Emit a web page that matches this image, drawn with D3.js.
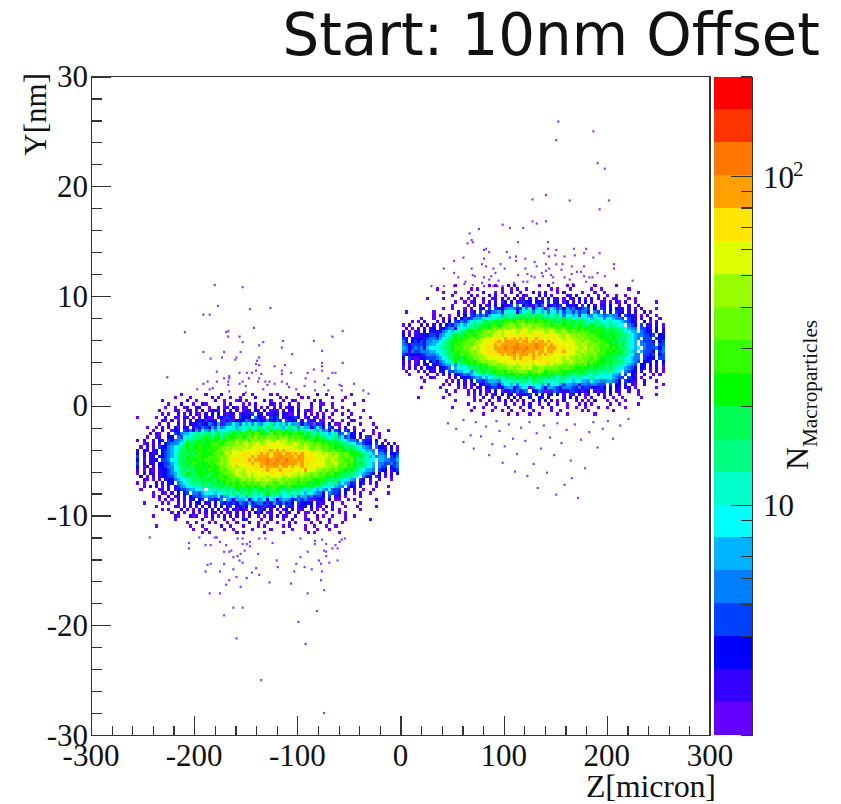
<!DOCTYPE html>
<html>
<head>
<meta charset="utf-8">
<script src="https://cdn.jsdelivr.net/npm/d3@7/dist/d3.min.js"></script>
<style>
body{margin:0;background:#fff;}
text{font-family:"Liberation Serif",serif;fill:#111;}
.axis path,.axis line{stroke:#333;stroke-width:1.2;shape-rendering:crispEdges;}
</style>
</head>
<body>
<svg class="chart" width="841" height="804"></svg>
<script>
var zMajor = [-300,-200,-100,0,100,200,300];
var yMajor = [-30,-20,-10,0,10,20,30];
var zMinor = [-280,-260,-240,-220,-180,-160,-140,-120,-80,-60,-40,-20,20,40,60,80,120,140,160,180,220,240,260,280];
var yMinor = [-28,-26,-24,-22,-18,-16,-14,-12,-8,-6,-4,-2,2,4,6,8,12,14,16,18,22,24,26,28];
var countMajor = [10,100];
var countMinor = [2,3,4,5,6,7,8,9,20,30,40,50,60,70,80,90,200];

// colour bands, bottom to top of the palette
var palette = ["#6600ff","#3300ff","#0000ff","#0040ff","#0080ff","#00b3ff","#00ffff","#00ffcc","#00ff80","#00ff55",
               "#00ff00","#33ff00","#66ff00","#99ff00","#ddff00","#ffe600","#ffa000","#ff7700","#ff3300","#ff0000"];
var levelChars = "0123456789abcdefghij";

// band per cell. 3 micron x 0.3 nm cells, "." is empty
var leftStartZ = -256, leftTopY = 1.2;
var leftRows = [
"..... ..... ....0 ..... ..0.. ..1.. ....0 ..0.. ...0. 0.... ..0.. ...1. .0... ....0 ..... ..... .....",
"..... ..... ..0.. ..0.. ....1 .0... 0..0. ...1. ..... .0.0. ...0. 0.... ...0. ..0.. ..... ..... .....",
"..... ...0. ..... .1..0 ..... 1..0. ..01. 0.... .1.0. ..0.. 10... ..0.1 ..... .0... ...0. ..... .....",
"..... ..... 0...1 ...0. .10.. ...0. 1...0 .0.1. ...10 .0..1 ..0.. .1..0 0..0. ..... 0.... ..... .....",
"..... ....0 ..0.. 01..1 1..0. .1.01 .20.1 0..1. 0.1.0 .1.01 1.0.. .0..1 ...0. .0... ..... ..... .....",
"..... ..0.. ..10. .01.0 .1.01 10.2. 0.1.0 11.20 .2.01 0.1.1 1.2.0 10..0 .1..0 ...0. ...0. ..... .....",
"..... ...0. 0..1. 0.1.1 0.1.2 .2.10 21.02 113.1 2.112 1.210 0.1.1 .0.1. 0..0. .0..0 ..... ..... .....",
"0.... .0..1 ..10. 11.0. 1.201 .1203 11.32 12.42 10.32 3.112 131.0 2.10. 1.0.. ...1. ..0.. 0.... .....",
"..... ...10 .1.0. 0.1.2 12012 1.301 30212 43113 21412 30.31 21.1. 012.0 0..1. .0..1 0.... ..... .....",
"..... ..0.. 1..1. 0.211 31243 25034 46537 56475 47685 65746 45524 30413 1.2.0 0..1. ..0.. .0... .....",
"...0. .0.1. 1.20. 21.13 14325 36456 67586 78679 86987 78569 68475 52364 2.31. 0.1.. 0.... ..0.. .....",
"..... 0..1. .021. 31425 36547 58667 87996 8a88a 9a7a9 b89a8 97a88 67958 45163 2.31. 1..0. .0... .0...",
"....0 .10.. 1.324 55678 87896 8a789 8a9ab 9bacb ab9ca bcaba 9baa8 a8797 76568 34.52 1.2.. .0.0. .....",
"...0. .01.. 22.43 67788 89a98 aa89b aabca bcbdb cbdcc bdcdb cbcba a9ba8 98779 56342 2.1.3 0..1. .....",
"0.1.. 1.21. 32445 78899 a9aa9 abbab bcdcc dbdcd cdedc ededc dcdcb cbaab a9899 87654 43.31 1.2.. 0....",
"..01. 1.1.2 34456 8a99a a9aab bbabc ccdcd eddee ddeef eeedd dedcd ccbcb bba9a 99877 64532 2.3.1 .1.0.",
".0.1. 1.322 45678 9a9aa baaab bbccd cdded edeef effee feefe eedde dccdc bcbba aa899 87654 3.422 1.2.0",
"1.20. 11.23 45679 9a99b aaaba bccdd deede efeff fffgf gfgff fefee eddde ccbcb baa9a 99765 54.33 2.1.1",
"2.1.1 12.23 45689 99a9a baaab bcbde deeef ffeff gfgfg ggfgg fgfgf efeee dedcd cbcba aa987 65.44 3.223",
"3.1.1 2.123 45689 9a99b aaabb bcdcd eeeff ffgfg gggfg ghggg gfggf ffeee eedde cbccb a9a87 56455 4.324",
"2.0.1 12.33 46689 9a9aa babbb bbdcd effef fgfgg gghgg hgghg ggggf fffee edded ccbbc a8987 66.55 44335",
"3.1.1 1.223 35689 99ab9 aaaba bcdcd eefef ffgff gghgh gghgg ggfgf fefef eddde cbcbb a9a87 65.44 33424",
"2.01. 1.223 44679 9a99a ba9ab abccd dfdee fefff gfggg gfggf gffgf ffefe eddcd bccab a9887 65.43 3.234",
"1.0.1 0.122 34678 9899a a9aba abcbc ddeed efefe ffgff fgfff fefeg eeedd cdcbc bba9a 98765 54.32 2.123",
"0.1.1 1.122 34578 8a999 aaa9b aabcc cdedd eedee efeff effee eeded dcdcb cbbca a9998 87654 32.2. 1.1.2",
".2.0. 1.122 33567 89899 aa99a abbab ccded dedee eedee eedde ddcdc cbccb baaba 98988 66.42 2.31. 0.1..",
"..10. 0.1.1 22456 67899 8a9a9 9abab bcbcd cdcde ddedc ddcdc ccbcb cbaab a9989 87675 4.32. 1..1. ..0..",
"0.0.. .1.1. 22.45 67788 89989 9a9ab abacb bcbcb cdccb bdcbc bbabb a9aa9 98788 56542 3.21. 0.1.. .....",
"..0.1 .1.0. 1.234 56677 78889 89a99 9baab aabab bcabc baa9b aa9a9 8a988 67665 44.32 1.1.. ..0.. .0...",
".0... ..01. 1.123 34556 67.78 78879 78a89 9a899 a99b8 a9899 89887 87657 54633 3.21. 1..0. .0... .....",
"..... 0..10 .1.2. 23.44 35667 56678 68798 89879 79a88 98678 67865 76544 2.433 1.2.. 0.0.. 0.... .0...",
"..... 0.1.. 1.01. 1.233 34544 46355 66577 58767 78577 65667 56355 34133 2.3.1 1.0.. ..0.. ..... .....",
"..... ..0.1 .0.1. 1.12. 23.33 134.5 41555 62564 56265 14554 23434 30312 1.2.0 0..0. 0.... ..0.. .....",
"..0.. ...0. 0..1. 0.1.2 2.11. 2.323 13243 15234 42315 31423 2.312 12.10 1..1. .0... ..0.. ..... .....",
"..... .0... ..10. 1.1.1 .1.2. 1.2.1 3.123 2.312 03112 .2.31 1.021 .2.10 .1.0. ..0.. .0... ..0.. .....",
"..... ...0. 0...1 .1.0. 1.1.1 .2.01 .2021 0.1.3 12.1. 1.02. 2.01. .1.0. 0..1. 0.... ..0.. ..... .....",
"..... ..... .0.1. 0..1. 0.1.1 1.1.0 1.1.1 .1.20 2.01. .1.01 ..1.0 0.1.. .0... 0.0.. ..... ..... .....",
"..... 0.... ..10. ..101 ..0.1 .0.1. 1.1.0 .1..0 .0.1. 1.10. .1..0 ...1. 0..0. ..0.. 0.... ..... .....",
"..... ..... ..0.. ..... .1..0 ...1. .0..2 0.... 0..1. ..0.. 1...0 1..0. ..1.. ..0.. ..... 0.... .....",
"..... ..... ..... .0..0 ...0. 0...0 ..0.. .1..0 ..0.. 0...0 .0... .0..1 ..0.. .0... ..... ..... .....",
"..... .0... ..... ..0.. .0... ..1.. 0...0 ....0 .0... ..0.1 ....0 ..0.. .0..0 ..... ..... ..... .....",
"..... ..... ..... ...0. ..0.. ...0. .0... ..0.. ...0. ..... 0...0 ...0. ..0.. ..... ..... ..... .....",
"..... ..... ..... ..... .0.0. ..... ..0.0 ..... .0... ..0.. ..... 0.0.. ..... 0.... ..... ..... ....."
];

var rightStartZ = 1, rightTopY = 11.1;
var rightRows = [
"..... ..... ..... ..0.. ..... ...0. 0...1 .0... ....0 ..1.. ...0. 1.... ..0.. ....0 ..... ..... .....",
"..... ..... .0... ..... ..0.0 ..... ..0.. 0.1.. 0.... ...0. 0...0 ..... .0..0 ..... ...0. ..... .....",
"..... ..... ...0. ..0.. .0... .1... 0.0.. 1..0. ..1.0 .1... 0.1.. ...0. ..0.. 0.... ..... .0... .....",
"..... ..... ..... .0... ..1.0 ...1. 1..0. ..1.1 0...2 .1.0. ...10 .1... 1..0. .0..0 ..0.. ..... .....",
"..... ...0. ...0. ....0 .0.1. .1..0 1.1.0 .2.01 .1.1. 0.2.1 1.0.1 1.2.0 .1.1. 0..01 ...0. 0.... .....",
"..... ..... ..... ..0.. 0.01. .0.1. 1.02. 2.103 12.12 1.3.1 2.02. 1.1.2 .1..0 1.0.1 0.1.. 0.... ..0..",
"..... ..... ..... .0... .0.1. 1.01. 2.211 3.4.2 31142 4.213 13.21 12.3. 2.1.1 1.2.. 1..1. .1... .....",
"..... ..... ...0. .0... 0.1.. 12.3. 31245 54136 46256 50465 34253 42134 3.2.3 1.2.2 11.1. 0.1.. ..0..",
".0... ..... 0.... ...1. 1.02. 3.314 45166 76257 68477 57366 46355 35344 2.43. 3.2.3 12.1. 1..1. 0....",
"..... ..... 0.0.. 0..1. 2.314 34156 67588 79889 89899 87968 87467 56366 44655 34544 2.322 1.0.1 ..0..",
"..... .0... 0..1. 1.2.2 31355 57677 78899 8a9a9 a9ba9 a9899 87a88 67887 75866 46654 43.32 1.1.. 1..0.",
"...0. 0.1.. .1.1. 2.314 35687 78a89 a9abb bacbc abbab bab9a 98a99 a8998 77887 67866 65432 1..2. 0.1..",
"0.1.. .1.1. 1.2.2 31456 57888 9a9ab babcc dcbdd cdcdc cbcab bbaba 9ba99 8a989 87887 66.43 2.3.1 1.1.0",
".1.0. 1.1.1 2.123 45167 79899 abbac ccddc dedce edcdd dcddc bccab bbaba a9baa 98a98 87654 4.332 1.2.1",
"1.0.1 1.2.1 21245 65778 9aa9b bccdc dedee eedfe edeee edded ccdcb cbbcb baaba a9a99 98765 5.432 2.2.1",
"2.1.1 11223 32456 78a99 abbab ccdcd eedef fefef feeff eeefe edded dcdcc bcbaa a9aa9 99876 54433 23.22",
"32.21 22134 43567 89aba bbccb ddefe ffegf fgfgf gffgf fefef eedee ddcdc cbcba aa9a9 98876 54.33 3.322",
"42.23 23144 55678 9aabb bcccd defef fgfgg gggfg gfgfg gfgfe feeee eddcd dcbcb baa9a 89876 5.433 32.23",
"43133 33145 56688 9abab ccbdd eefff gfggg gghgg ggghg ggfgf fefee edded ccdcb bcaaa 9a876 5.443 33.33",
"54234 34156 66788 9abbb ccded eefff ggghg ghhgg hgghg gfggg fffef eedde cdccb bbaba 99876 56.43 33424",
"44143 34445 56778 9abab bcdcd efeff fgggg ghggh gggfg gfggf ffgee edded cdccb baba9 a9875 5.533 32.34",
"32122 21344 45678 99aac bbccd deeff ffgfg ggfgg gfgfg fgffe eefee eddcd ccdbb baa9a 98876 44.33 23.23",
"2.310 12133 34567 89aa9 abbdc ddeee efeef fgfgf ffgff fefef eeded dcdcc cbcba a9a99 88765 44.32 22.33",
"1.1.0 1.2.2 32456 78a89 aabab cdcdd deefe efeff fefef effee eedde dccdc bcbaa a9a99 88765 43.22 1.2.2",
"2.0.1 1.12. 21345 56478 8a9ab abbcd dcdde eedee eedee eeded ddccd cbcbc abaaa 99a88 87654 3.22. 2.1.1",
"0.1.1 .1.12 1.223 4.567 68899 a9abb bcccd dcdde deccd dcdcc cbccb baaba a9a99 98987 76543 2.21. 1.1.0",
".0... 0.1.1 1.12. 33455 67488 9a89a abbac bccdc cbccd cabbb bbaa9 a9aa9 89888 78876 6.432 2.1.. 0.1.0",
"..0.. ...0. .0.1. 1.223 43566 78688 9a8aa aabab babab aa9a8 99a99 88989 77876 77655 4.3.2 1..1. .0.0.",
"..... .0..1 0.... 0.1.2 21345 46567 78789 98a99 a8a99 98a88 79887 78776 68667 66654 33.32 1.0.. 0....",
"..... ..0.. ....0 .0.1. 1.2.3 31455 54777 78788 87988 87677 78766 56655 46554 45543 2.321 1..1. ..0..",
"..... ..... ...0. 0..1. 1.02. 21334 42566 57467 67767 56366 65355 44144 34433 3.3.2 2.1.1 0..1. ....0",
"..... .0... ..0.. ...0. 0.1.1 1.213 31245 51356 60466 41554 31444 31413 31213 2.2.2 1.11. 0.... ..0..",
"..... ..... ....0 ..0.. .0.1. 1.01. 2.311 31413 4.214 30304 31113 31201 2.101 1.2.1 1..1. .0... .....",
"..... ..... ..... 0.... .0.0. 0.1.0 1.2.1 2.012 13.2. 2.12. 2.1.0 1.2.0 1..1. 0.1.. 0.... .0... ..0..",
"..... 0.... ...0. ..... ...0. .1..0 .1..1 .2.1. .2..2 1.2.. ..1.2 .1..0 .1... 1..0. .0... ..0.. .....",
"..... ..... ..... ..0.. ...0. 0..1. .0.1. 1.0.1 ..1.2 .1.1. 0.1.. .1.0. 0.1.. .0..0 ..0.. ..... .....",
"..... ..... ..... ..... .0... ..0.0 ...1. .0..1 .1..0 ..1.. 1..0. ..0.1 .0... ..0.. 0.... .0... .....",
"..... ..... ..... .0... ...0. .0... 0...1 ...0. .1... 0..1. ...0. .0..0 ...0. .0... ..0.. ..... .....",
"..... ..... ..... ..... ..0.. ....0 ..0.. 0...0 ..0.. ...0. .0... ...0. 0.... ...0. ..... ..... .....",
"..... ..... ..... ..... ..... .0... ....0 ..0.. .0..0 ..... 0..0. ..... ..0.. ..... ..... ..... ....."
];

// single low count bins outside the dense part: [z, y]
var rightOutliers = [
[152,26],[186,25.1],[150,24.3],[190,22.2],[197,21.7],[140,19.3],[127,18.9],[163,18.8],[201,18.8],[192,18],[127,16.9],[140,16.9],[131,16.7],[98,16.6],[105,16.3],
[118,16.3],[75,16.2],[66,15.8],[68,15.2],[64,14.9],[69,15],[113,15],[142,15],[82,14.4],[80,14.3],[85,14.1],[102,14.1],[142,14.4],[150,14.3],[167,14.4],
[179,14.4],[177,14],[192,14],[138,14],[143,13.7],[149,13.8],[168,13.8],[158,13.7],[186,13.6],[60,13.6],[51,13.3],[80,13.5],[111,13.7],[111,13.3],[105,13.6],
[120,13.5],[129,13.2],[78,13],[96,13],[82,12.8],[131,12.8],[140,13],[150,13],[156,13],[165,12.8],[177,12.8],[206,13],[206,12.6],[41,12.6],[68,12.6],
[89,12.6],[100,12.6],[120,12.6],[140,12.4],[143,12.6],[155,12.5],[170,12.3],[174,12.3],[51,12.2],[69,12],[91,12.2],[113,12],[122,12.1],[136,12.2],[145,12],
[165,12.1],[190,12.2],[55,11.8],[71,11.9],[80,11.8],[87,11.9],[126,11.9],[129,11.8],[137,11.9],[147,11.8],[158,11.8],[163,11.6],[177,11.9],[182,11.8],[185,11.8],
[197,11.9],[62,11.4],[85,11.6],[94,11.5],[118,11.4],[122,11.4],[179,11.4],[224,11.5],[78,11.3],[109,11.3],[147,11.3],[166,11.2],[29,11],[41,11],[51,11],
[61,11.2],[69,11.1],[80,11],[85,11],[89,11],[93,11],[98,11],
[45,-1.5],[53,-2],[60,-1.2],[67,-2.6],[72,-1.4],[77,-2.7],[82,-1.8],[88,-3.4],[92,-1.3],[95,-2.2],[100,-3.6],[104,-1.6],[108,-2.9],[112,-4.3],[116,-1.9],
[120,-3.1],[124,-1.4],[128,-5.2],[131,-2.4],[135,-3.8],[138,-1.7],[141,-6],[144,-2.8],[148,-4.4],[151,-1.5],[155,-3.3],[158,-7.1],[160,-2.1],[164,-4.9],[168,-1.6],
[171,-8.3],[174,-3],[178,-5.6],[182,-2.3],[186,-1.4],[190,-3.7],[195,-2],[200,-1.3],[205,-2.9],[212,-1.7],[220,-1.1],[150,-8],[132,-7.4],[110,-5.9],[98,-5.1],
[85,-4.4],[122,-6.3],[165,-6.5],[70,-3.8],[60,-3.2]
];
var leftOutliers = [
[-181,11.1],[-154,10.9],[-178,9.2],[-147,8.9],[-127,9],[-192,8.4],[-186,8.4],[-143,7.2],[-210,6.8],[-170,6.8],[-168,6.9],[-57,6.9],[-67,6.4],[-168,6.4],[-157,6.4],
[-154,5.9],[-138,5.6],[-134,5.9],[-115,6],[-85,6],[-116,5.4],[-192,5],[-172,5],[-156,5],[-77,5.1],[-106,4.8],[-185,4.4],[-174,4.5],[-160,4.5],[-161,4.3],
[-138,4.5],[-140,4.2],[-77,4],[-57,4],[-141,3.9],[-138,3.8],[-123,3.7],[-113,3.8],[-77,3.7],[-141,3.3],[-116,3.3],[-85,3.4],[-77,3.3],[-179,3.2],[-227,2.7],
[-167,2.8],[-157,3.1],[-150,3.1],[-145,3.1],[-136,3],[-116,3],[-107,3.1],[-91,3.1],[-67,3.1],[-64,3.1],[-172,2.6],[-167,2.6],[-148,2.6],[-138,2.6],[-93,2.6],
[-71,2.6],[-188,2.3],[-179,2.3],[-168,2.3],[-154,2.3],[-139,2.3],[-132,2.3],[-128,2.3],[-116,2.3],[-84,2.3],[-192,2.1],[-168,2],[-157,2.1],[-151,1.9],[-130,2],
[-123,2.1],[-111,2.1],[-75,2],[-60,2],[-58,1.9],[-46,2.1],[-198,1.6],[-186,1.6],[-183,1.7],[-167,1.4],[-151,1.3],[-134,1.6],[-109,1.8],[-102,1.6],[-94,1.9],
[-84,1.5],[-71,1.5],[-58,1.5],[-37,1.5],[-32,1.2],
[-75,-27.9],[-136,-24.9],[-160,-21.1],[-93,-21.6],[-100,-19.6],[-82,-18.6],[-172,-19],[-163,-18.3],[-154,-18.3],[-186,-17],[-176,-17],[-91,-17],[-75,-16.7],[-156,-16.4],[-170,-16.2],
[-167,-15.8],[-128,-16],[-107,-16.1],[-78,-15.8],[-160,-15.5],[-150,-15.6],[-138,-15.3],[-145,-15.1],[-176,-15],[-190,-15],[-163,-14.8],[-141,-14.7],[-120,-14.6],[-104,-15],[-94,-14.6],
[-87,-14.8],[-77,-15],[-188,-14.4],[-185,-14.3],[-172,-14.3],[-102,-14.3],[-78,-14.3],[-70,-14.2],[-62,-14],[-157,-14],[-154,-14.2],[-121,-14],[-80,-14],[-163,-13.7],[-98,-13.7],
[-159,-13.6],[-73,-13.6],[-172,-13.2],[-167,-13.2],[-165,-13.1],[-156,-13.4],[-152,-13.1],[-139,-13.4],[-91,-13.2],[-75,-13.1],[-73,-13.2],[-67,-12.9],[-62,-12.9],[-206,-12.9],[-206,-12.4],
[-190,-12.6],[-185,-12.6],[-176,-12.3],[-170,-12.6],[-154,-12.5],[-150,-12.5],[-147,-12.3],[-147,-12.7],[-125,-12.4],[-84,-12.2],[-84,-12.5],[-77,-12.1],[-73,-12.5],[-64,-12.6],[-60,-12.3],
[-58,-12.1],[-55,-12],[-244,-11.9],[-196,-11.9],[-181,-11.9],[-179,-11.9],[-159,-12],[-154,-12],[-138,-12],[-132,-12],[-98,-12]
];

var svg = d3.select("svg");
var margin = {top:76.5, left:91, right:710, bottom:735};

var x = d3.scaleLinear().domain([-300,300]).range([margin.left,margin.right]);
var y = d3.scaleLinear().domain([-30,30]).range([margin.bottom,margin.top]);
var zCount = d3.scaleLog().domain([2,200]).range([margin.bottom,margin.top]);

// turn the typed rows into cells
function cellsFrom(rows,startZ,topY){
    var out = [];
    rows.forEach(function(row,r){
        row.replace(/ /g,"").split("").forEach(function(ch,c){
            if(ch==".") return;
            out.push({z:startZ+c*3, y:topY-r*0.3, level:levelChars.indexOf(ch)});
        });
    });
    return out;
}
var cells = cellsFrom(leftRows,leftStartZ,leftTopY).concat(cellsFrom(rightRows,rightStartZ,rightTopY));

svg.append("g").attr("shape-rendering","crispEdges").selectAll("rect").data(cells).enter().append("rect")
    .attr("x",function(d){return x(d.z);})
    .attr("y",function(d){return y(d.y);})
    .attr("width",function(d){return x(d.z+3)-x(d.z);})
    .attr("height",function(d){return y(d.y-0.3)-y(d.y);})
    .attr("fill",function(d){return palette[d.level];});

svg.append("g").selectAll("rect").data(leftOutliers.concat(rightOutliers)).enter().append("rect")
    .attr("x",function(d){return x(d[0]);})
    .attr("y",function(d){return y(d[1]);})
    .attr("width",x(2)-x(0))
    .attr("height",y(0)-y(0.2))
    .attr("fill",palette[0])
    .attr("opacity",0.8);

// colour bar
var bandEdges = palette.map(function(c,i){return zCount.invert(margin.bottom-(margin.bottom-margin.top)*i/palette.length);});
svg.append("g").attr("shape-rendering","crispEdges").selectAll("rect").data(palette).enter().append("rect")
    .attr("x",713.5)
    .attr("width",38.5)
    .attr("y",function(c,i){return i==palette.length-1 ? margin.top : zCount(bandEdges[i+1]);})
    .attr("height",function(c,i){return (i==palette.length-1 ? zCount(bandEdges[i]) - margin.top : zCount(bandEdges[i])-zCount(bandEdges[i+1]));})
    .attr("fill",function(c){return c;});

// axes, ROOT style with ticks pointing in
function drawAxis(axisFn,scale,major,minor,longTick,shortTick,tx,ty){
    var g = svg.append("g").attr("class","axis").attr("transform","translate("+tx+","+ty+")");
    g.call(axisFn(scale).tickValues(minor).tickSizeOuter(0).tickSizeInner(-shortTick).tickFormat(""));
    g.append("g").call(axisFn(scale).tickValues(major).tickSizeOuter(0).tickSizeInner(-longTick).tickFormat(""));
    g.selectAll("text").remove();
    return g;
}
drawAxis(d3.axisBottom,x,zMajor,zMinor,19,9,0,margin.bottom);
drawAxis(d3.axisLeft,y,yMajor,yMinor,20,11,margin.left,0);
svg.append("g").attr("class","axis").append("path")
    .attr("d",d3.line()([[margin.left,margin.top],[margin.right,margin.top],[margin.right,margin.bottom]]))
    .attr("fill","none");

// colour bar axis, its ticks go left into the bar
var barAxis = svg.append("g").attr("class","axis").attr("transform","translate(752,0)");
barAxis.call(d3.axisRight(zCount).tickValues(countMinor).tickSizeOuter(0).tickSizeInner(-11).tickFormat(""));
barAxis.append("g").call(d3.axisRight(zCount).tickValues(countMajor).tickSizeOuter(0).tickSizeInner(-21).tickFormat(""));

// tick labels
svg.append("g").selectAll("text").data(zMajor).enter().append("text")
    .attr("x",function(d){return x(d);}).attr("y",766)
    .attr("text-anchor","middle").attr("font-size",31)
    .text(function(d){return d;});
svg.append("g").selectAll("text").data(yMajor).enter().append("text")
    .attr("x",88).attr("y",function(d){return y(d)+10.5;})
    .attr("text-anchor","end").attr("font-size",31)
    .text(function(d){return d;});

svg.append("text").attr("x",763).attr("y",516).attr("font-size",31).text("10");
var hundred = svg.append("text").attr("x",763).attr("y",187.5).attr("font-size",31);
hundred.append("tspan").text("10");
hundred.append("tspan").attr("font-size",21).attr("dy",-12).attr("dx",-1).text("2");

// titles
svg.append("text").attr("x",820).attr("y",55)
    .attr("text-anchor","end").attr("font-size",57.8)
    .style("font-family","'DejaVu Sans'").text("Start: 10nm Offset");
svg.append("text").attr("x",716).attr("y",797)
    .attr("text-anchor","end").attr("font-size",32).attr("textLength",130)
    .text("Z[micron]");
svg.append("text").attr("transform","translate(46,73) rotate(-90)")
    .attr("text-anchor","end").attr("font-size",31).text("Y[nm]");
svg.append("text").attr("transform","translate(808,470) rotate(-90)")
    .attr("font-size",32).text("N");
svg.append("text").attr("transform","translate(817,447) rotate(-90)")
    .attr("font-size",21.2).text("Macroparticles");
</script>
</body>
</html>
